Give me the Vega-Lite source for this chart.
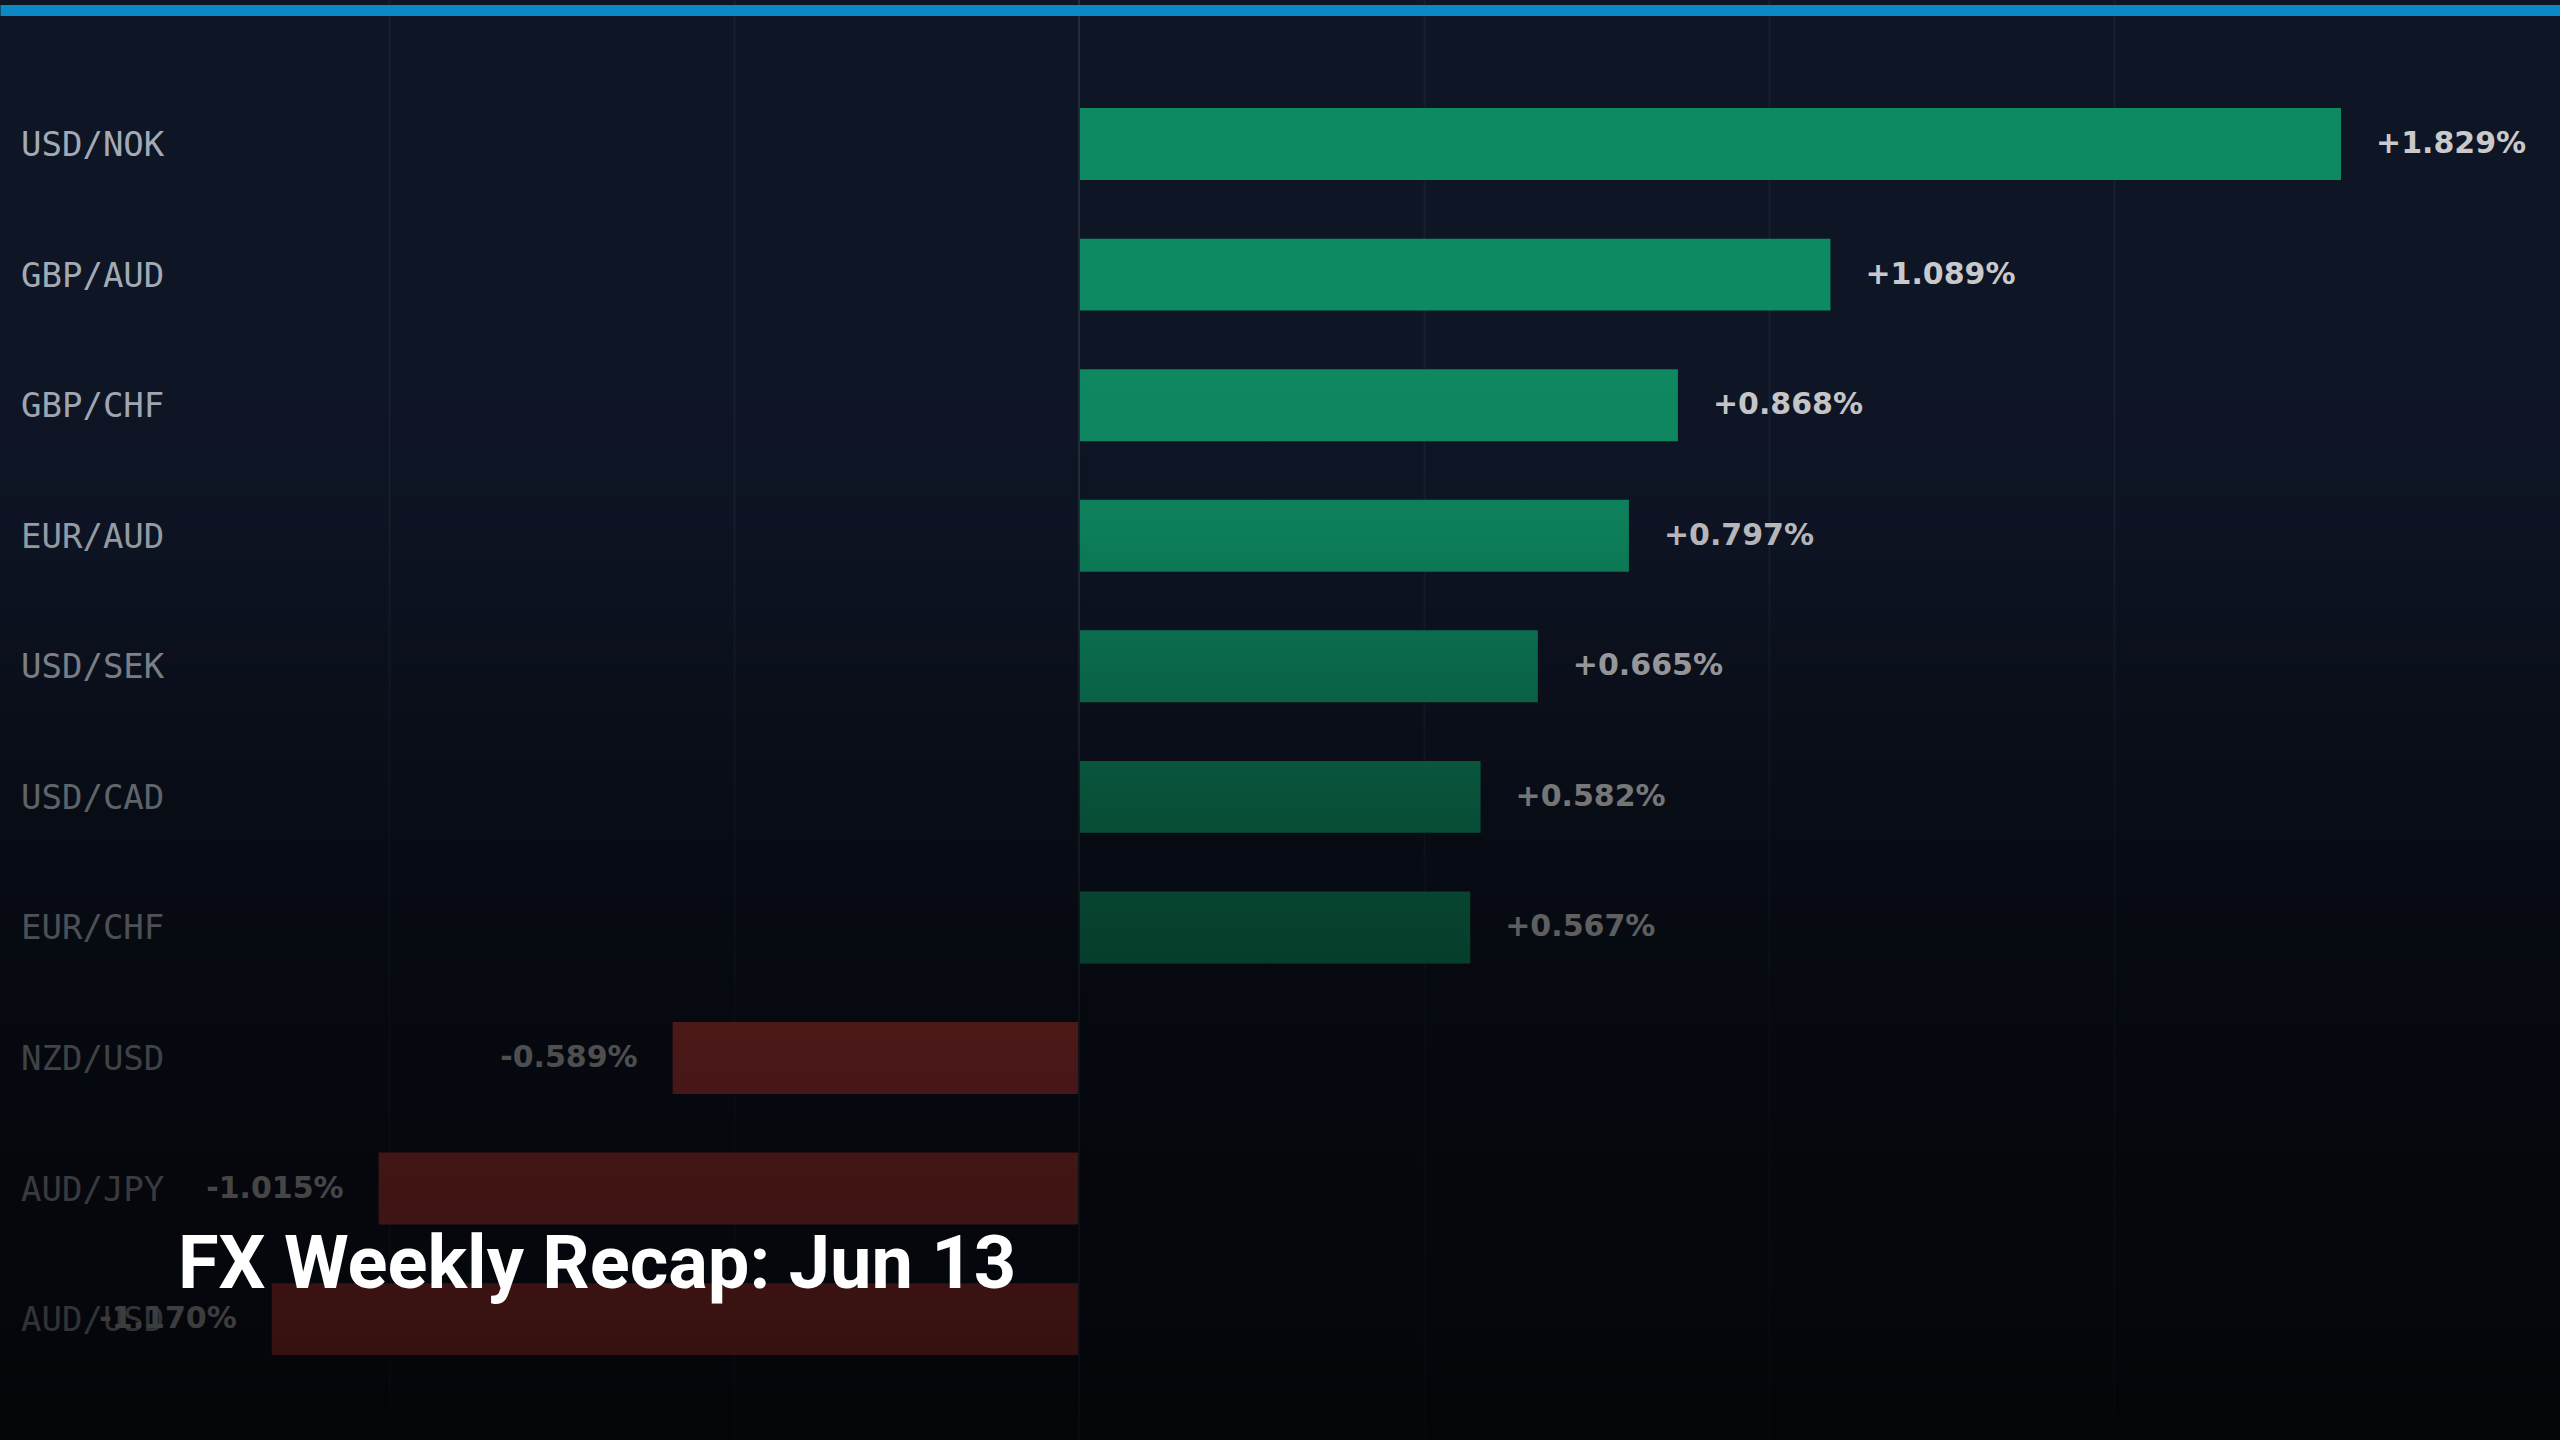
{
  "$schema": "https://vega.github.io/schema/vega-lite/v6.json",
  "width": 2560,
  "height": 1440,
  "autosize": "none",
  "padding": 0,
  "background": "#0e1525",
  "config": {"view": {"stroke": null}},
  "title": {
    "text": "FX Weekly Recap: Jun 13",
    "orient": "bottom",
    "anchor": "start",
    "frame": "group",
    "offset": 0,
    "dx": 178,
    "dy": -153,
    "baseline": "alphabetic",
    "font": "Roboto",
    "fontSize": 74,
    "fontWeight": 700,
    "color": "#ffffff"
  },
  "data": {
    "values": [
      {"pair": "USD/NOK", "chg": 1.829},
      {"pair": "GBP/AUD", "chg": 1.089},
      {"pair": "GBP/CHF", "chg": 0.868},
      {"pair": "EUR/AUD", "chg": 0.797},
      {"pair": "USD/SEK", "chg": 0.665},
      {"pair": "USD/CAD", "chg": 0.582},
      {"pair": "EUR/CHF", "chg": 0.567},
      {"pair": "NZD/USD", "chg": -0.589},
      {"pair": "AUD/JPY", "chg": -1.015},
      {"pair": "AUD/USD", "chg": -1.170}
    ]
  },
  "layer": [
    {
      "mark": {"type": "bar"},
      "encoding": {
        "y": {
          "field": "pair",
          "type": "nominal",
          "sort": null,
          "scale": {"paddingInner": 0.449, "paddingOuter": 0.739, "align": 0.56},
          "axis": null
        },
        "x": {
          "field": "chg",
          "type": "quantitative",
          "scale": {"domain": [-1.5638, 2.1464], "nice": false, "zero": false},
          "axis": {
            "orient": "bottom",
            "values": [-1, -0.5, 0.5, 1, 1.5],
            "domain": false,
            "ticks": false,
            "labels": false,
            "grid": true,
            "gridColor": "#172030",
            "gridWidth": 2,
            "title": null
          }
        },
        "color": {
          "condition": {"test": "datum.chg < 0", "value": "#bd3b3b"},
          "value": "#0e8a62"
        }
      }
    },
    {
      "data": {"values": [{"z": 0}]},
      "mark": {"type": "rule", "color": "#252d3c", "strokeWidth": 2},
      "encoding": {
        "x": {
          "field": "z",
          "type": "quantitative",
          "axis": {
            "orient": "top",
            "offset": -10,
            "domain": true,
            "domainColor": "#0b89c5",
            "domainWidth": 11,
            "ticks": false,
            "labels": false,
            "grid": false,
            "title": null,
            "zindex": 2
          }
        }
      }
    },
    {
      "mark": {
        "type": "text",
        "align": "left",
        "baseline": "middle",
        "dx": 21,
        "dy": 2,
        "font": "DejaVu Sans Mono",
        "fontSize": 34,
        "color": "#a3aab5"
      },
      "encoding": {
        "y": {"field": "pair", "type": "nominal", "sort": null, "axis": null},
        "x": {"datum": -1.5638, "type": "quantitative", "axis": null},
        "text": {"field": "pair"}
      }
    },
    {
      "transform": [
        {"filter": "datum.chg > 0"},
        {"calculate": "'+' + format(datum.chg, '.3f') + '%'", "as": "lbl"}
      ],
      "mark": {
        "type": "text",
        "align": "left",
        "baseline": "middle",
        "dx": 35,
        "font": "DejaVu Sans",
        "fontWeight": "bold",
        "fontSize": 30,
        "color": "#c9c9cc"
      },
      "encoding": {
        "y": {"field": "pair", "type": "nominal", "sort": null, "axis": null},
        "x": {"field": "chg", "type": "quantitative", "axis": null},
        "text": {"field": "lbl"}
      }
    },
    {
      "transform": [
        {"filter": "datum.chg < 0"},
        {"calculate": "'-' + format(abs(datum.chg), '.3f') + '%'", "as": "lbl"}
      ],
      "mark": {
        "type": "text",
        "align": "right",
        "baseline": "middle",
        "dx": -35,
        "font": "DejaVu Sans",
        "fontWeight": "bold",
        "fontSize": 30,
        "color": "#c9c9cc"
      },
      "encoding": {
        "y": {"field": "pair", "type": "nominal", "sort": null, "axis": null},
        "x": {"field": "chg", "type": "quantitative", "axis": null},
        "text": {"field": "lbl"}
      }
    },
    {
      "data": {"values": [{"k": 1}]},
      "mark": {
        "type": "rect",
        "fill": {
          "gradient": "linear",
          "x1": 0, "y1": 0, "x2": 0, "y2": 1,
          "stops": [
            {"offset": 0, "color": "rgba(0,0,0,0)"},
            {"offset": 0.22, "color": "rgba(0,0,0,0)"},
            {"offset": 0.30, "color": "rgba(0,0,0,0.03)"},
            {"offset": 0.37, "color": "rgba(0,0,0,0.09)"},
            {"offset": 0.46, "color": "rgba(0,0,0,0.25)"},
            {"offset": 0.55, "color": "rgba(0,0,0,0.41)"},
            {"offset": 0.64, "color": "rgba(0,0,0,0.53)"},
            {"offset": 0.73, "color": "rgba(0,0,0,0.61)"},
            {"offset": 0.83, "color": "rgba(0,0,0,0.66)"},
            {"offset": 0.92, "color": "rgba(0,0,0,0.70)"},
            {"offset": 1, "color": "rgba(0,0,0,0.78)"}
          ]
        }
      },
      "encoding": {}
    }
  ]
}
